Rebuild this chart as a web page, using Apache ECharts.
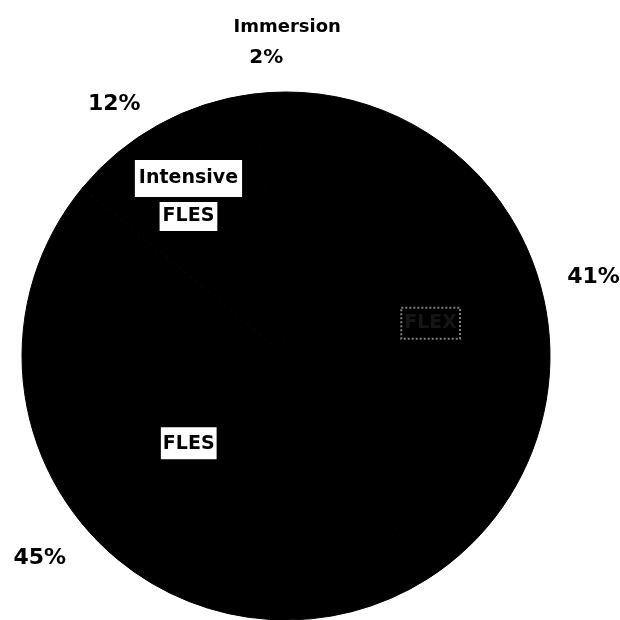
<!DOCTYPE html>
<html>
<head>
<meta charset="utf-8">
<script src="https://cdn.jsdelivr.net/npm/echarts@6/dist/echarts.min.js"></script>
<style>
  html, body { margin: 0; padding: 0; background: #fff; }
  #chart { width: 620px; height: 620px; }
</style>
</head>
<body>
<div id="chart"></div>
<script>
// Program shares (percent), counter-clockwise from 12 o'clock
const programs = ['Immersion', 'Intensive FLES', 'FLES', 'FLEX'];
const shares = [2, 12, 45, 41];
// text shown on the slice itself
const sliceTitles = ['Immersion', 'Intensive\nFLES', 'FLES', 'FLEX'];

const FONT = 'DejaVu Sans';
const CENTER = [286, 356];

// small hand nudges for label placement, by program
const outerNudge = { 'Immersion': [0, 9], 'Intensive FLES': [-20, 24], 'FLES': [-10, -6], 'FLEX': [5, 9] };
const innerNudge = { 'Intensive FLES': [-6, 8], 'FLES': [4, -2], 'FLEX': [15, 5] };

const chart = echarts.init(document.getElementById('chart'), null, { renderer: 'canvas' });

const rows = programs.map((p, i) => ({ name: p, value: shares[i], title: sliceTitles[i] }));

function nudger(table) {
  return function (params) {
    const d = table[programs[params.dataIndex]] || [0, 0];
    return { dx: d[0], dy: d[1] };
  };
}

const commonPie = {
  type: 'pie',
  center: CENTER,
  startAngle: 90,
  clockwise: false,
  silent: true,
  animation: false,
  labelLine: { show: false }
};

const boxStyle = {
  fontFamily: FONT, fontWeight: 'bold', fontSize: 19,
  color: '#000', backgroundColor: '#fff'
};

chart.setOption({
  backgroundColor: '#ffffff',
  series: [
    // solid pie with the labels that sit near the middle radius
    Object.assign({}, commonPie, {
      radius: [0, 264],
      itemStyle: { color: '#000', borderColor: '#000', borderWidth: 1 },
      labelLayout: nudger(innerNudge),
      data: rows.map(r => {
        const showHere = r.name === 'FLES' || r.name === 'FLEX';
        const faint = r.name === 'FLEX';
        return {
          name: r.name,
          value: r.value,
          label: {
            show: showHere,
            position: 'inside',
            formatter: faint ? '{f|' + r.title + '}' : '{b|' + r.title + '}',
            rich: {
              b: Object.assign({}, boxStyle, { padding: [7, 2, 6, 2] }),
              f: {
                fontFamily: FONT, fontWeight: 'bold', fontSize: 19,
                color: '#151515', backgroundColor: 'transparent',
                borderColor: 'rgba(255,255,255,0.5)', borderWidth: 1,
                borderType: 'dotted', padding: [6, 3, 6, 3]
              }
            }
          }
        };
      })
    }),
    // transparent copy used to place the boxed label further out on its slice
    Object.assign({}, commonPie, {
      radius: [0, 374],
      itemStyle: { color: 'transparent' },
      labelLayout: nudger(innerNudge),
      data: rows.map(r => {
        const lines = r.title.split('\n');
        return {
          name: r.name,
          value: r.value,
          label: {
            show: r.name === 'Intensive FLES',
            position: 'inside',
            formatter: '{i|' + lines[0] + '}' + (lines[1] ? '\n{j|' + lines[1] + '}' : ''),
            rich: {
              i: Object.assign({}, boxStyle, { padding: [9, 4, 9, 4], lineHeight: 38 }),
              j: Object.assign({}, boxStyle, { padding: [5, 3, 5, 3], lineHeight: 38 })
            }
          }
        };
      })
    }),
    // transparent outer ring carrying the percentage labels
    Object.assign({}, commonPie, {
      radius: [296, 328],
      itemStyle: { color: 'transparent' },
      labelLayout: nudger(outerNudge),
      data: rows.map(r => {
        const pct = r.value + '%';
        const isTop = r.name === 'Immersion';
        return {
          name: r.name,
          value: r.value,
          label: {
            show: true,
            position: 'inside',
            formatter: isTop
              ? '{n|' + r.name + '}\n{p|' + pct + '}\n{s| }'
              : '{p|' + pct + '}',
            rich: {
              n: {
                fontFamily: FONT, fontWeight: 'bold', fontSize: 18,
                color: '#000', lineHeight: 31, padding: [0, 0, 0, 42]
              },
              p: {
                fontFamily: FONT, fontWeight: 'bold', fontSize: isTop ? 20 : 22,
                color: '#000', lineHeight: 31
              },
              s: { fontSize: 4, lineHeight: 16, color: 'transparent' }
            }
          }
        };
      })
    })
  ]
});
</script>
</body>
</html>
